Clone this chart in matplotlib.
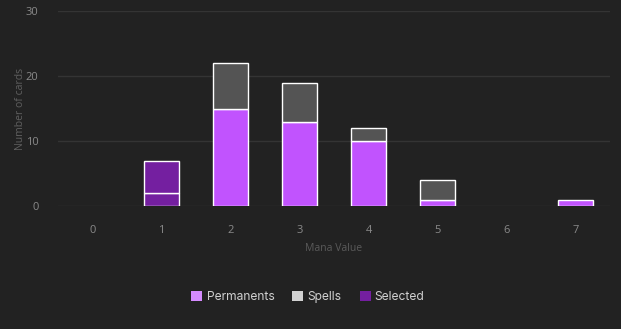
import matplotlib
matplotlib.use("Agg")
import matplotlib.pyplot as plt
from matplotlib.patches import Patch
import numpy as np

mana_values = ["0", "1", "2", "3", "4", "5", "6", "7"]
permanents = [0, 0, 15, 13, 10, 1, 0, 1]
spells = [0, 0, 7, 6, 2, 3, 0, 0]
selected_permanents = [0, 2, 0, 0, 0, 0, 0, 0]
selected_spells = [0, 5, 0, 0, 0, 0, 0, 0]

BG = "#222222"
PERM = "#c153fe"
SPELL = "#545454"
SEL = "#741fa0"

plt.rcParams["font.family"] = ["Open Sans", "DejaVu Sans"]

fig = plt.figure(figsize=(6.21, 3.29), dpi=100, facecolor=BG)
ax = fig.add_axes([58 / 621, 1 - 206 / 329, 552 / 621, 195 / 329], facecolor=BG)

x = np.arange(len(mana_values))
w = 0.5


def stack(values, bottom, color):
    values = np.asarray(values, dtype=float)
    bottom = np.asarray(bottom, dtype=float)
    keep = values > 0
    ax.bar(x[keep], values[keep], w, bottom=bottom[keep], color=color,
           edgecolor="white", linewidth=1, zorder=3)
    return bottom + values


base = np.zeros(len(mana_values))
base = stack(selected_permanents, base, SEL)
base = stack(selected_spells, base, SEL)
base = stack(permanents, base, PERM)
base = stack(spells, base, SPELL)

ax.set_xlim(-0.5, len(mana_values) - 0.5)
ax.set_ylim(0, 30)
ax.set_yticks([0, 10, 20, 30])
ax.set_xticks(x)
ax.set_xticklabels(mana_values)
ax.grid(axis="y", color="#343434", linewidth=1, zorder=0)
for s in ax.spines.values():
    s.set_visible(False)
ax.tick_params(axis="both", length=0, colors="#8a8a8a", labelsize=8)
ax.tick_params(axis="x", pad=14)
ax.tick_params(axis="y", pad=14)
ax.set_ylabel("Number of cards", color="#606060", fontsize=7.5)
ax.yaxis.set_label_coords((26 - 58) / 552, 0.5)
ax.set_xlabel("Mana Value", color="#5a5a5a", fontsize=7.5, labelpad=5)

handles = [Patch(facecolor="#d58bff", edgecolor="none", label="Permanents"),
           Patch(facecolor="#d2d2d2", edgecolor="none", label="Spells"),
           Patch(facecolor=SEL, edgecolor="none", label="Selected")]
leg = fig.legend(handles=handles, loc="center", bbox_to_anchor=(308 / 621, 1 - 297 / 329),
                 ncol=3, frameon=False, handlelength=0.9, handleheight=0.9,
                 handletextpad=0.35, columnspacing=1.5, labelcolor="#d0d0d0",
                 prop={"family": ["Inter", "DejaVu Sans"], "size": 8.7})

fig.savefig("out.png", dpi=100, facecolor=BG)
